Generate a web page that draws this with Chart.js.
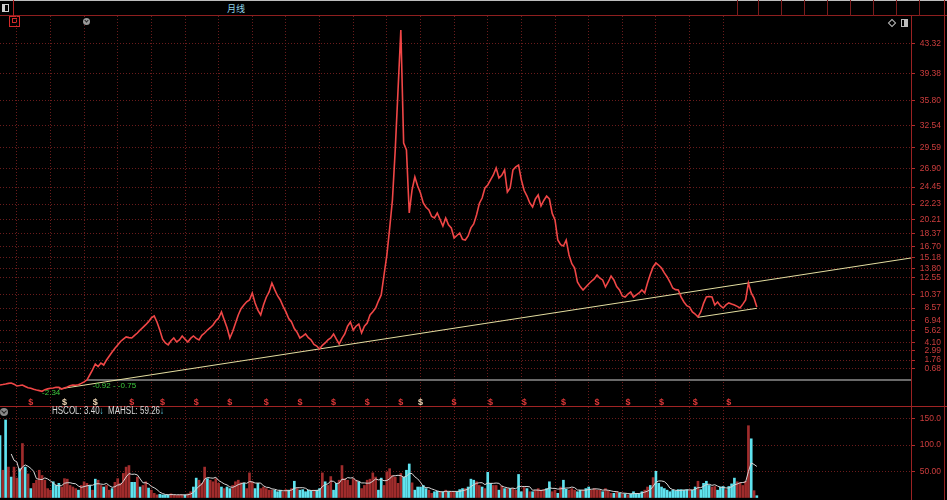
<!DOCTYPE html>
<html>
<head>
<meta charset="utf-8">
<script src="https://cdn.jsdelivr.net/npm/chart.js@4.4.1/dist/chart.umd.min.js"></script>
<style>
  body { margin:0; background:#000; width:947px; height:500px; overflow:hidden; position:relative; font-family:"Liberation Sans", Arial, sans-serif; }
  .hl { position:absolute; left:0; width:947px; height:1px; background:#8e1f1f; }
  .vl { position:absolute; width:1px; background:#7c1c1c; }
  .box { position:absolute; }
  #priceBox { position:absolute; left:0; top:16px; width:947px; height:391px; }
  #volBox { position:absolute; left:0; top:407px; width:947px; height:93px; }
  #title { position:absolute; left:227px; top:2px; font:9px "Noto Sans CJK SC", sans-serif; color:#8fd3e6; }
  #volLegend { position:absolute; left:52px; top:405px; font-size:10px; color:#d8d8d8; white-space:pre; transform:scaleX(0.8); transform-origin:left top; }
  #volLegend .arr { color:#5fd7ef; }
</style>
</head>
<body>
<!-- top toolbar -->
<div class="hl" style="top:0;background:#bdbdbd"></div>
<div class="hl" style="top:15px"></div>
<div class="box" style="left:2px;top:4px;width:5px;height:6px;border:1px solid #cfcfcf;background:linear-gradient(90deg,#cfcfcf 50%,#000 50%)"></div>
<div class="vl" style="left:13px;top:0;height:16px;background:#b02020"></div>
<div class="box" style="left:9px;top:16px;width:9px;height:9px;border:1px solid #d42a2a"></div>
<div class="box" style="left:12px;top:18px;width:3px;height:3px;border:1px solid #d42a2a"></div>
<div id="title">月线</div>
<div class="vl" style="left:737px;top:0;height:16px"></div>
<div class="vl" style="left:758px;top:0;height:16px"></div>
<div class="vl" style="left:781px;top:0;height:16px"></div>
<div class="vl" style="left:804px;top:0;height:16px"></div>
<div class="vl" style="left:827px;top:0;height:16px"></div>
<div class="vl" style="left:850px;top:0;height:16px"></div>
<div class="vl" style="left:873px;top:0;height:16px"></div>
<div class="vl" style="left:896px;top:0;height:16px"></div>
<div class="vl" style="left:919px;top:0;height:16px"></div>
<div class="vl" style="left:944px;top:0;height:500px;background:#9a2222"></div>

<div id="priceBox"><canvas id="priceChart" width="947" height="391"></canvas></div>
<div id="volBox"><canvas id="volChart" width="947" height="93"></canvas></div>

<!-- panel icons -->
<div class="box" style="left:83px;top:18px;width:7px;height:7px;border-radius:50%;background:#9a9a9a"></div>
<div class="box" style="left:85px;top:19px;width:2px;height:2px;border-right:1px solid #222;border-bottom:1px solid #222;transform:rotate(45deg)"></div>
<div class="box" style="left:889px;top:20px;width:4px;height:4px;border:1px solid #bbb;transform:rotate(45deg)"></div>
<div class="box" style="left:901px;top:19px;width:5px;height:6px;border:1px solid #bbb;background:linear-gradient(90deg,#000 50%,#bbb 50%)"></div>
<div class="hl" style="top:406px;background:#a02424"></div>
<div class="box" style="left:0;top:408px;width:8px;height:8px;border-radius:50%;background:#8a8a8a"></div>
<div class="box" style="left:2px;top:409px;width:3px;height:3px;border-right:1px solid #222;border-bottom:1px solid #222;transform:rotate(45deg)"></div>
<div id="volLegend"></div>

<script>
// monthly data, one value per month (index = month number)
const price = [
  -1.51, -1.45, -1.38, -1.30, -1.25, -1.40, -1.64, -1.58, -1.51, -1.70,
  -1.88, -1.95, -2.08, -2.17, -2.25, -2.34, -2.12, -2.02, -1.95, -1.91,
  -1.80, -1.82, -2.04, -1.90, -1.77, -1.60, -1.51, -1.55, -1.48, -1.30,
  -1.10, -0.86, -0.20, 0.46, 1.24, 0.90, 1.37, 1.11, 1.77, 2.30,
  2.82, 3.30, 3.74, 4.20, 4.50, 4.79, 4.70, 4.65, 5.00, 5.31,
  5.70, 6.05, 6.40, 6.80, 7.30, 7.54, 6.75, 5.70, 4.50, 4.00,
  3.74, 4.30, 4.65, 4.13, 4.40, 4.92, 4.50, 4.13, 4.60, 4.92,
  4.60, 4.39, 5.00, 5.31, 5.70, 6.00, 6.36, 6.90, 7.28, 8.07,
  7.00, 6.00, 4.65, 5.50, 6.60, 7.67, 8.50, 8.98, 9.40, 9.64,
  10.56, 9.25, 8.30, 7.67, 8.98, 10.00, 10.69, 11.87, 11.00, 10.20,
  9.64, 8.80, 8.07, 7.20, 6.75, 5.90, 5.40, 4.65, 4.90, 5.18,
  4.70, 4.39, 3.80, 3.60, 3.21, 3.70, 4.00, 4.40, 4.65, 5.18,
  4.50, 3.87, 4.60, 5.18, 6.20, 6.75, 5.70, 6.20, 6.49, 5.31,
  6.20, 6.62, 7.67, 8.10, 8.59, 9.50, 10.30, 12.92, 15.50, 19.00,
  22.76, 29.32, 37.19, 45.06, 30.24, 29.32, 21.05, 24.07, 25.78, 24.60,
  23.68, 22.37, 21.80, 21.45, 20.60, 20.40, 21.05, 20.20, 19.35, 20.40,
  19.50, 19.09, 17.77, 18.10, 18.43, 17.60, 17.51, 18.04, 19.10, 19.61,
  20.79, 22.30, 23.02, 24.33, 24.73, 25.40, 26.04, 26.96, 25.65, 26.00,
  26.70, 23.81, 24.33, 26.70, 27.10, 27.35, 25.38, 24.00, 23.28, 22.37,
  21.84, 22.90, 23.42, 21.97, 22.70, 23.28, 22.89, 21.00, 20.14, 17.51,
  16.90, 16.72, 17.51, 15.54, 14.40, 13.84, 12.00, 11.40, 10.95, 11.35,
  11.74, 12.10, 12.40, 12.92, 12.50, 12.27, 11.35, 12.00, 12.79, 12.27,
  11.40, 10.95, 10.17, 10.03, 10.40, 10.69, 10.03, 10.30, 10.56, 10.95,
  10.56, 11.87, 13.00, 13.97, 14.49, 14.20, 13.84, 13.20, 12.66, 12.00,
  11.21, 11.00, 10.95, 10.00, 9.38, 8.90, 8.72, 8.07, 7.80, 7.41,
  8.07, 9.20, 10.03, 10.10, 10.03, 8.98, 9.38, 8.90, 8.59, 9.00,
  9.25, 9.10, 8.98, 8.80, 8.59, 9.10, 9.64, 11.87, 10.56, 9.90,
  8.72
];

const volume = [
  118, 52, 148, 58, 39, 58, 37, 55, 103, 58,
  45, 17, 27, 33, 52, 42, 33, 17, 14, 30,
  23, 27, 20, 36, 35, 23, 20, 17, 14, 23,
  30, 27, 23, 14, 35, 33, 23, 20, 23, 14,
  17, 29, 36, 27, 46, 58, 61, 29, 29, 39,
  20, 23, 30, 18, 14, 8, 5, 6, 5, 5,
  5, 7, 5, 4, 5, 5, 5, 7, 11, 20,
  37, 33, 27, 58, 36, 33, 30, 36, 27, 20,
  17, 20, 17, 23, 30, 33, 28, 27, 17, 47,
  30, 17, 27, 17, 20, 17, 14, 14, 14, 11,
  14, 11, 15, 14, 17, 31, 17, 14, 15, 11,
  14, 13, 14, 14, 17, 47, 30, 23, 40, 14,
  27, 33, 61, 36, 33, 23, 36, 33, 30, 17,
  23, 33, 35, 47, 39, 14, 37, 23, 49, 55,
  42, 39, 27, 46, 39, 52, 64, 28, 14, 20,
  20, 23, 17, 14, 8, 11, 12, 11, 11, 14,
  11, 11, 11, 11, 15, 17, 17, 20, 35, 33,
  30, 23, 20, 17, 48, 27, 23, 23, 14, 22,
  17, 17, 17, 17, 14, 44, 11, 19, 17, 11,
  11, 14, 17, 14, 15, 17, 30, 11, 14, 8,
  20, 33, 16, 14, 17, 14, 11, 14, 14, 17,
  20, 14, 17, 14, 14, 11, 17, 13, 8, 8,
  11, 8, 7, 7, 5, 7, 11, 8, 7, 11,
  14, 20, 23, 38, 50, 27, 20, 17, 14, 11,
  14, 13, 15, 15, 14, 15, 14, 14, 20, 31,
  15, 27, 31, 23, 20, 21, 14, 20, 21, 15,
  21, 26, 37, 30, 27, 23, 30.9, 137, 112, 13,
  3.4
];

// 1 = up month (red bar), 0 = down month (cyan bar)
const volUp = [
  0,1,0,1,0,1,1,0,1,0, 1,0,1,1,1,1,1,1,1,0, 0,0,1,1,1,1,1,1,0,1,
  1,1,0,1,0,1,1,0,1,1, 0,1,1,1,1,1,1,0,0,1, 0,1,1,0,1,1,1,0,0,0,
  0,1,1,1,1,1,0,1,1,0, 0,1,1,1,0,1,1,1,1,0, 1,0,0,1,1,1,1,0,1,1,
  1,0,0,1,1,1,1,1,0,0, 0,1,1,0,1,0,1,0,0,0, 0,0,1,0,0,1,0,1,1,0,
  0,1,1,1,1,1,1,1,0,1, 1,1,1,1,1,0,0,1,1,1, 1,1,1,1,0,0,0,1,0,0,
  0,0,0,1,1,0,0,1,0,1, 0,1,1,0,0,0,1,0,0,0, 1,1,0,1,0,0,1,1,0,1,
  0,1,0,1,1,0,0,1,0,1, 0,1,1,1,1,0,0,1,1,0, 1,0,0,1,1,1,0,0,1,0,
  0,1,1,1,1,0,1,1,1,0, 1,0,1,0,1,0,0,0,0,0, 1,1,0,1,0,0,0,0,0,0,
  0,0,0,0,0,0,1,0,0,1, 0,0,0,0,1,1,0,0,0,1, 0,0,0,1,1,1,1,1,0,1,
  0
];

const slots = 325;                       // months across the x axis, incl. empty space on the right
const yearGrid = [6,18,30,42,54,66,78,90,102,114,126,138,150,162,174,186,198,210,222,234,246,258];
const priceTicks = [0.68,1.76,2.99,4.10,5.62,6.94,8.57,10.37,12.55,13.80,15.18,16.70,18.37,20.21,22.23,24.45,26.90,29.59,32.54,35.80,39.38,43.32];
const volTicks = [50, 100, 150];
const volTickLabels = ['50.00', '100.0', '150.0'];

const trendUpX = [21, 325], trendUpY = [-2.04, 15.15];
const trendLowX = [249, 270], trendLowY = [7.37, 8.55];
const refLineX = [31, 325], refLineY = [-0.86, -0.86];

const markIdx = [11,23,34,47,58,70,82,95,107,119,131,143,150,162,175,187,201,213,224,236,248,260];
const markLight = [23, 34, 150];
const lowMark = { i: 15, v: -2.34, text: '-2.34' };
const rangeMark = { i: 33, v: -0.86, text: '-0.92 - -0.75' };

// 5-month moving average of the volume
const ma5 = volume.map((v, i) => i < 4 ? null : volume.slice(i - 4, i + 1).reduce((a, b) => a + b, 0) / 5);

Chart.defaults.font.family = '"Liberation Sans", Arial, sans-serif';
const RED_TXT = '#cc3d3d';
const GRID = '#6a1c1c';

const pts = (xs, ys) => xs.map((x, k) => ({ x: x, y: ys[k] }));

function xScale() {
  return {
    type: 'linear', min: 0, max: slots, offset: false,
    afterBuildTicks: s => { s.ticks = yearGrid.map(v => ({ value: v })); },
    afterFit: s => { s.height = 0; s.paddingLeft = 0; s.paddingRight = 0; },
    ticks: { display: false },
    grid: { color: GRID, drawTicks: false, offset: false },
    border: { display: false, dash: [1, 2] }
  };
}

function yScale(min, max, tickVals, fmt) {
  return {
    type: 'linear', position: 'right', min: min, max: max,
    afterBuildTicks: s => { s.ticks = tickVals.map(v => ({ value: v })); },
    // fixed axis width (labels are right-aligned to its right edge), no extra room for half labels
    afterFit: s => { s.width = 30; s.paddingTop = 0; s.paddingBottom = 0; },
    ticks: { color: RED_TXT, font: { size: 8.5 }, padding: 2, crossAlign: 'far', autoSkip: false, callback: fmt },
    grid: { color: GRID, tickColor: '#b02a2a', tickLength: 4, tickBorderDash: [] },
    border: { color: '#9a2222', width: 1, dash: [1, 2] }
  };
}

const markPlugin = {
  id: 'marks',
  afterDatasetsDraw(chart) {
    const { ctx, chartArea } = chart;
    const x = chart.scales.x, y = chart.scales.y;
    ctx.save();
    ctx.font = 'bold 9px "Liberation Sans"';
    ctx.textAlign = 'center';
    ctx.textBaseline = 'alphabetic';
    markIdx.forEach(i => {
      ctx.fillStyle = markLight.includes(i) ? '#f0d6b4' : '#e03838';
      ctx.fillText('$', x.getPixelForValue(i), chartArea.bottom - 2);
    });
    ctx.font = '8px "Liberation Sans"';
    ctx.fillStyle = '#3cc83c';
    ctx.textAlign = 'left';
    ctx.textBaseline = 'middle';
    ctx.fillText(lowMark.text, x.getPixelForValue(lowMark.i), y.getPixelForValue(lowMark.v) + 1);
    ctx.fillText(rangeMark.text, x.getPixelForValue(rangeMark.i), y.getPixelForValue(rangeMark.v) + 6);
    ctx.restore();
  }
};

const common = {
  responsive: false, animation: false, events: [],
  layout: { padding: { left: 0, top: 0, bottom: 0, right: 6 }, autoPadding: false },
  plugins: { legend: { display: false }, tooltip: { enabled: false } }
};

new Chart(document.getElementById('priceChart'), {
  type: 'line',
  data: {
    datasets: [
      { data: price.map((v, i) => ({ x: i, y: v })), borderColor: '#f04646', borderWidth: 1.6, pointRadius: 0, tension: 0 },
      { data: pts(trendUpX, trendUpY), borderColor: '#e4dea0', borderWidth: 1, pointRadius: 0 },
      { data: pts(trendLowX, trendLowY), borderColor: '#e4dea0', borderWidth: 1, pointRadius: 0 },
      { data: pts(refLineX, refLineY), borderColor: '#8c8c8c', borderWidth: 1.5, pointRadius: 0 }
    ]
  },
  options: Object.assign({}, common, {
    scales: {
      x: xScale(),
      y: yScale(-4.40, 46.90, priceTicks, v => Number(v).toFixed(2))
    }
  }),
  plugins: [markPlugin]
});

new Chart(document.getElementById('volChart'), {
  type: 'bar',
  data: {
    datasets: [
      { type: 'line', data: ma5.map((v, i) => ({ x: i, y: v })), borderColor: '#d6d6d6', borderWidth: 1, pointRadius: 0, order: 0 },
      { type: 'bar', data: volume.map((v, i) => ({ x: i, y: v })), backgroundColor: volUp.map(u => u ? '#a02c2c' : '#5fe3ef'),
        barThickness: 2, order: 1 }
    ]
  },
  options: Object.assign({}, common, {
    scales: {
      x: xScale(),
      y: yScale(-4.77, 172.7, volTicks, (v, i) => volTickLabels[i])
    }
  })
});

const last = volume.length - 1;
document.getElementById('volLegend').innerHTML =
  'HSCOL: ' + volume[last].toFixed(2) + '<span class="arr">↓</span>  MAHSL: ' + ma5[last].toFixed(2) + '<span class="arr">↓</span>';
</script>
</body>
</html>
